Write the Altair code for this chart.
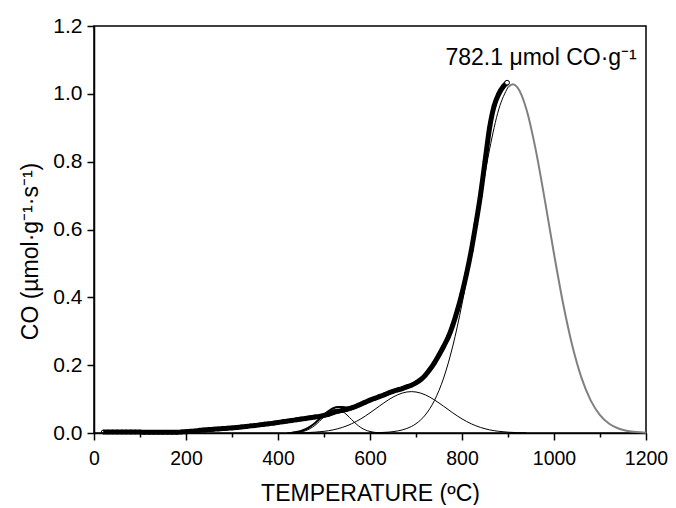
import altair as alt
import pandas as pd

# Experimental CO-TPD points (temperature in ºC, CO in µmol g-1 s-1)
exp_T = [20, 30, 40, 50, 60, 70, 80, 90, 100, 110, 120, 130, 140, 150, 160, 170, 180, 190,
         200, 210, 220, 230, 240, 250, 260, 270, 280, 290, 300, 310, 320, 330, 340, 350,
         360, 370, 380, 390, 400, 410, 420, 430, 440, 450, 460, 470, 480, 490, 500, 510,
         520, 530, 540, 550, 560, 570, 580, 590, 600, 610, 620, 630, 640, 650, 660, 670,
         680, 690, 700, 710, 720, 730, 740, 750, 760, 770, 780, 790, 800, 810, 820, 830,
         840, 850, 860, 870, 880, 890, 898]
exp_CO = [0.003, 0.003, 0.003, 0.003, 0.003, 0.003, 0.003, 0.003, 0.003, 0.002, 0.002, 0.002,
          0.002, 0.002, 0.002, 0.002, 0.002, 0.003, 0.004, 0.005, 0.006, 0.008, 0.009, 0.010,
          0.011, 0.012, 0.013, 0.014, 0.015, 0.016, 0.018, 0.019, 0.021, 0.022, 0.024, 0.026,
          0.027, 0.029, 0.031, 0.033, 0.035, 0.037, 0.039, 0.041, 0.043, 0.045, 0.047, 0.049,
          0.052, 0.055, 0.060, 0.064, 0.067, 0.070, 0.074, 0.079, 0.085, 0.091, 0.097, 0.102,
          0.107, 0.112, 0.118, 0.123, 0.127, 0.131, 0.136, 0.141, 0.148, 0.157, 0.170, 0.187,
          0.207, 0.230, 0.255, 0.282, 0.318, 0.362, 0.412, 0.470, 0.537, 0.615, 0.700, 0.800,
          0.900, 0.965, 1.000, 1.022, 1.033]

# Fitted envelope (visible part at low temperature)
fit_T = [430, 440, 450, 460, 470, 480, 490, 500, 510, 520, 530, 540, 550, 560, 570, 580]
fit_CO = [0.001, 0.003, 0.006, 0.011, 0.019, 0.029, 0.041, 0.054, 0.065, 0.073, 0.077, 0.077,
          0.075, 0.075, 0.079, 0.085]

# Deconvoluted components
c1_T = [420, 440, 460, 480, 490, 500, 510, 520, 530, 540, 550, 560, 570, 580, 590, 600, 620, 640]
c1_CO = [0.0002, 0.0014, 0.0068, 0.0222, 0.0343, 0.0479, 0.0602, 0.0683, 0.0697, 0.0641,
         0.0531, 0.0397, 0.0267, 0.0162, 0.0089, 0.0044, 0.0008, 0.0001]

c2_T = [420, 440, 460, 480, 500, 520, 540, 560, 580, 600, 620, 640, 660, 680, 690, 700, 720,
        740, 760, 780, 800, 820, 840, 860, 880, 900, 920, 940]
c2_CO = [0.0002, 0.0005, 0.0011, 0.0024, 0.0049, 0.0093, 0.0165, 0.0272, 0.0416, 0.0594,
         0.0789, 0.0977, 0.1126, 0.1209, 0.1220, 0.1209, 0.1126, 0.0977, 0.0789, 0.0594,
         0.0416, 0.0272, 0.0165, 0.0093, 0.0049, 0.0024, 0.0011, 0.0005]

c3_T = [600, 620, 640, 660, 680, 700, 720, 740, 760, 780, 800, 820, 840, 860, 880, 900]
c3_CO = [0.0004, 0.0010, 0.0026, 0.0060, 0.0133, 0.0274, 0.0529, 0.0956, 0.1618, 0.2564,
         0.3803, 0.5284, 0.6872, 0.8370, 0.9547, 1.0196]

# High-temperature part of the fit (grey)
tail_T = [900, 910, 920, 940, 960, 980, 1000, 1020, 1040, 1060, 1080, 1100, 1120, 1140,
          1160, 1180, 1200]
tail_CO = [1.0196, 1.0280, 1.0196, 0.9547, 0.8370, 0.6872, 0.5284, 0.3803, 0.2564, 0.1618,
           0.0956, 0.0529, 0.0274, 0.0133, 0.0060, 0.0026, 0.0010]

x_ticks = [0, 100, 200, 300, 400, 500, 600, 700, 800, 900, 1000, 1100, 1200]
y_ticks = [0.0, 0.1, 0.2, 0.3, 0.4, 0.5, 0.6, 0.7, 0.8, 0.9, 1.0, 1.1, 1.2]

note_text = ["782.1 \u03bcmol CO\u00b7g\u207b\u00b9"]
note_T = [972]
note_CO = [1.085]

FONT = "Liberation Sans"

def df(t, v):
    return pd.DataFrame({"T": t, "CO": v})

x_enc = alt.X(
    "T:Q",
    scale=alt.Scale(domain=[0, 1200], nice=False),
    axis=alt.Axis(
        values=x_ticks,
        labelExpr="datum.value % 200 === 0 ? datum.label : ''",
        format="d",
        labelFlush=False,
        labelOverlap=False,
        labelFontSize=19.5,
        tickSize={"condition": {"test": "datum.value % 200 === 0", "value": 7}, "value": 4},
        title="TEMPERATURE (\u00baC)",
        labelPadding=9,
        titleY=67,
        titleBaseline="alphabetic",
        titleAlign="center",
    ),
)
y_enc = alt.Y(
    "CO:Q",
    scale=alt.Scale(domain=[0, 1.2], nice=False),
    axis=alt.Axis(
        values=y_ticks,
        labelExpr="round(datum.value * 10) % 2 === 0 ? format(datum.value, '.1f') : ''",
        labelFlush=False,
        labelOverlap=False,
        labelFontSize=21,
        tickSize={"condition": {"test": "round(datum.value * 10) % 2 === 0", "value": 7}, "value": 4},
        title="CO (\u00b5mol\u00b7g\u207b\u00b9\u00b7s\u207b\u00b9)",
        labelPadding=5,
        titleX=-57,
        titleY=225,
        titleAngle=270,
        titleBaseline="alphabetic",
        titleAlign="center",
    ),
)

base_x = alt.X("T:Q")
base_y = alt.Y("CO:Q")

comp1 = alt.Chart(df(c1_T, c1_CO)).mark_line(color="black", strokeWidth=1, interpolate="monotone").encode(x=x_enc, y=y_enc)
comp2 = alt.Chart(df(c2_T, c2_CO)).mark_line(color="black", strokeWidth=1, interpolate="monotone").encode(x=base_x, y=base_y)
comp3 = alt.Chart(df(c3_T, c3_CO)).mark_line(color="black", strokeWidth=1, interpolate="monotone").encode(x=base_x, y=base_y)

exp_line = alt.Chart(df(exp_T, exp_CO)).mark_line(color="black", strokeWidth=5, interpolate="monotone").encode(x=base_x, y=base_y)
exp_pts = alt.Chart(df(exp_T, exp_CO)).mark_point(shape="circle", filled=False, color="black", strokeWidth=1, size=14, opacity=1).encode(x=base_x, y=base_y)
last_pt = alt.Chart(df(exp_T[-1:], exp_CO[-1:])).mark_point(shape="circle", fill="white", stroke="black", strokeWidth=1, size=22, opacity=1, fillOpacity=1).encode(x=base_x, y=base_y)

fit = alt.Chart(df(fit_T, fit_CO)).mark_line(color="black", strokeWidth=2, interpolate="monotone").encode(x=base_x, y=base_y)
tail = alt.Chart(df(tail_T, tail_CO)).mark_line(color="#808080", strokeWidth=2, interpolate="monotone").encode(x=base_x, y=base_y)

note = alt.Chart(pd.DataFrame({"T": note_T, "CO": note_CO, "txt": note_text})).mark_text(
    font=FONT, fontSize=23, align="center", baseline="alphabetic", color="black"
).encode(x=base_x, y=base_y, text="txt:N")

chart = alt.layer(comp1, comp2, comp3, exp_line, exp_pts, fit, tail, last_pt, note).properties(
    width=552,
    height=407,
    padding={"left": 86, "top": 18, "right": 22, "bottom": 72},
    autosize=alt.AutoSizeParams(type="none"),
).configure_view(
    stroke="black", strokeWidth=1.5
).configure_axis(
    grid=False,
    domainColor="black",
    domainWidth=1.5,
    tickColor="black",
    tickWidth=1.5,
    labelColor="black",
    titleColor="black",
    labelFont=FONT,
    titleFont=FONT,
    titleFontSize=23,
    titleFontWeight="normal",
)

chart.save("out.html", embed_options={"renderer": "svg", "actions": False})
